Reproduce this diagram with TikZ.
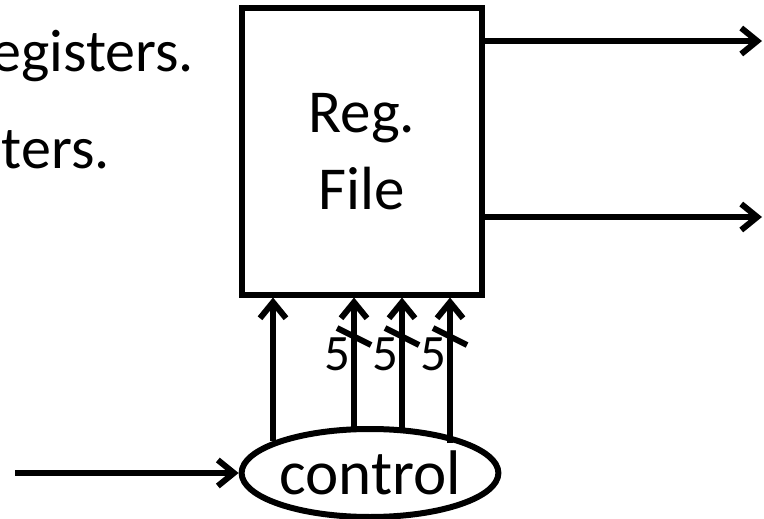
\documentclass[tikz,border=0pt]{standalone}
\usepackage{fontspec}
\setmainfont{Carlito}
\usetikzlibrary{arrows.meta,shapes.geometric}
\begin{document}
\begin{tikzpicture}[x=1pt,y=-1pt,
  wire/.style={line width=6pt},
  arr/.style={wire,-{Straight Barb[length=16pt,width=26pt]}},
  slash/.style={line width=6pt},
  bigtext/.style={font=\fontsize{61}{77}\selectfont},
  numtext/.style={font=\fontsize{51}{60}\selectfont, inner sep=0pt}]
\useasboundingbox (0,0) rectangle (764,519);
% register file box
\node[draw, line width=6pt, minimum width=240pt, minimum height=286pt, inner sep=0pt,
      align=center, bigtext] (rf) at (362,151.5) {Reg.\\File};
% control ellipse
\node[draw, ellipse, line width=6pt, minimum width=252pt, minimum height=88pt, inner sep=0pt,
      font=\fontsize{63}{70}\selectfont] (ctrl) at (370,473) {control};
% cut-off text on the left
\node[font=\fontsize{60}{77}\selectfont, anchor=base east, inner sep=0pt] (t1) at (194,72) {egisters.};
\node[font=\fontsize{60}{77}\selectfont, anchor=base east, inner sep=0pt] (t2) at (110,168) {ters.};
% outputs
\coordinate (o1) at (762,41);
\coordinate (o2) at (762,217);
\draw[arr] (o1 -| rf.east) -- (o1);
\draw[arr] (o2 -| rf.east) -- (o2);
% input
\coordinate (in) at (15,473);
\draw[arr] (in) -- (ctrl.west);
% control lines
\coordinate (s1) at (273,441);
\coordinate (s2) at (354,428);
\coordinate (s3) at (402,429);
\coordinate (s4) at (450,443);
\foreach \s in {s1,s2,s3,s4}
  \draw[arr] (\s) -- (\s |- rf.south);
% bus width marks
\foreach \s [count=\i] in {s2,s3,s4} {
  \coordinate (m\i) at (\s |- 0,337);
  \draw[slash] ([shift={(-17,-9)}]m\i) -- ([shift={(17,8)}]m\i);
  \node[numtext, anchor=base east] (n\i) at ([shift={(-3,33)}]m\i) {5};
}
\end{tikzpicture}
\end{document}
